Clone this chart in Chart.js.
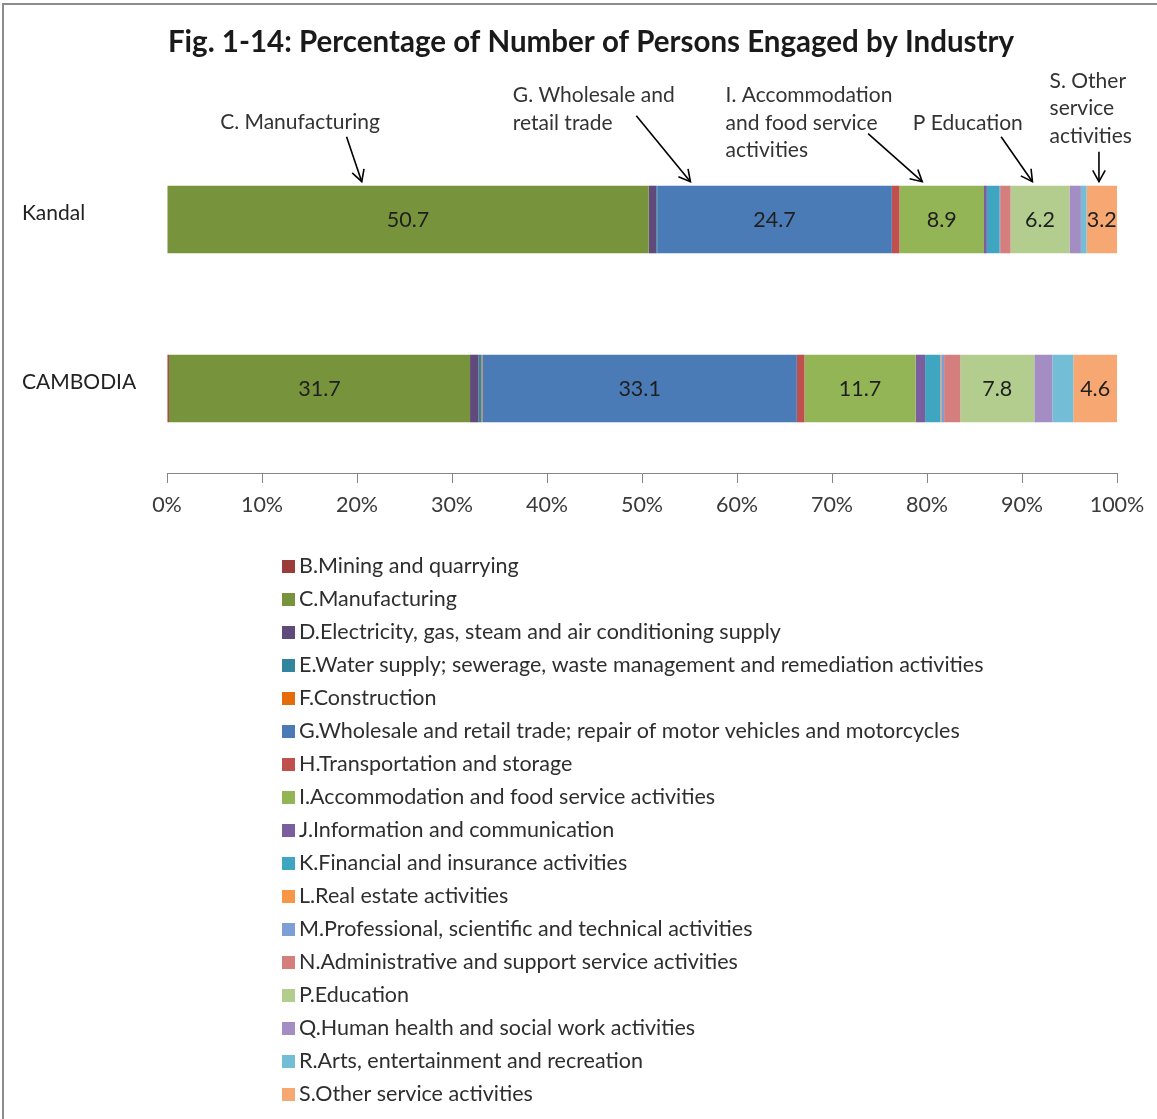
<!DOCTYPE html>
<html><head><meta charset="utf-8">
<script src="https://cdn.jsdelivr.net/npm/chart.js@4/dist/chart.umd.min.js"></script>
<style>html,body{margin:0;padding:0;background:#fff}#wrap{width:1157px;height:1119px;position:relative}</style>
</head><body><div id="wrap"><canvas id="c" width="1157" height="1119"></canvas></div>
<script>
// ---------- data ----------
const regions = ['Kandal', 'CAMBODIA'];
const industries = [
  'B.Mining and quarrying',
  'C.Manufacturing',
  'D.Electricity, gas, steam and air conditioning supply',
  'E.Water supply; sewerage, waste management and remediation activities',
  'F.Construction',
  'G.Wholesale and retail trade; repair of motor vehicles and motorcycles',
  'H.Transportation and storage',
  'I.Accommodation and food service activities',
  'J.Information and communication',
  'K.Financial and insurance activities',
  'L.Real estate activities',
  'M.Professional, scientific and technical activities',
  'N.Administrative and support service activities',
  'P.Education',
  'Q.Human health and social work activities',
  'R.Arts, entertainment and recreation',
  'S.Other service activities'
];
const kandalValues   = [0.0, 50.7, 0.8, 0.1, 0.0, 24.7, 0.8, 8.9, 0.3, 1.3, 0.0, 0.1, 1.1, 6.2, 1.2, 0.6, 3.2];
const cambodiaValues = [0.2, 31.7, 0.9, 0.3, 0.1, 33.1, 0.8, 11.7, 1.0, 1.6, 0.1, 0.3, 1.7, 7.8, 1.9, 2.2, 4.6];
const labelledIndustries = ['C.Manufacturing', 'G.Wholesale and retail trade; repair of motor vehicles and motorcycles',
  'I.Accommodation and food service activities', 'P.Education', 'S.Other service activities'];
const xTickValues = [0, 10, 20, 30, 40, 50, 60, 70, 80, 90, 100];
const titleText = 'Fig. 1-14: Percentage of Number of Persons Engaged by Industry';

// callouts (text and arrow anchors in percent units of the value axis)
const calloutLines = [['C. Manufacturing'], ['G. Wholesale and', 'retail trade'], ['I. Accommodation', 'and food service', 'activities'], ['P Education'], ['S. Other', 'service', 'activities']];
const calloutTextAt = [14.0, 36.4, 58.8, 78.5, 92.9];
const calloutArrowFrom = [18.9, 49.4, 73.8, 87.8, 98.1];
const calloutArrowTo = [20.5, 55.1, 79.5, 91.1, 98.1];

// ---------- styles ----------
const industryColors = ['#9A3C39', '#77933C', '#604A7B', '#31859C', '#E46C0A', '#4A7BB7', '#C0504D', '#93B555',
  '#7B5E9E', '#3FA6C2', '#F79646', '#7E9ED6', '#D47F7D', '#B3CD8E', '#A38DC2', '#74BDD6', '#F7A772'];
const FONT = 'Lato, "Open Sans", sans-serif';

const datasets = industries.map((name, i) => ({
  label: name,
  data: [kandalValues[i], cambodiaValues[i]],
  backgroundColor: industryColors[i],
  borderWidth: 0,
  categoryPercentage: 0.8,
  barPercentage: 0.5
}));

const decor = {
  id: 'decor',
  beforeDraw(chart) {
    const ctx = chart.ctx;
    ctx.save();
    ctx.fillStyle = '#fff';
    ctx.fillRect(0, 0, chart.width, chart.height);
    ctx.restore();
  },
  afterDraw(chart) {
    const ctx = chart.ctx;
    const xs = chart.scales.x;
    ctx.save();
    // frame lines
    ctx.strokeStyle = '#8c8c8c';
    ctx.lineWidth = 2;
    ctx.beginPath();
    ctx.moveTo(3, chart.height); ctx.lineTo(3, 4); ctx.lineTo(chart.width, 4);
    ctx.stroke();

    // title
    ctx.fillStyle = '#1a1a1a';
    ctx.font = 'bold 29.5px ' + FONT;
    ctx.textAlign = 'center';
    ctx.textBaseline = 'middle';
    ctx.fillText(titleText, 591, 42);

    // value labels
    ctx.font = '21.5px ' + FONT;
    ctx.fillStyle = '#1f1f1f';
    chart.data.datasets.forEach((ds, di) => {
      if (!labelledIndustries.includes(ds.label)) return;
      chart.getDatasetMeta(di).data.forEach((el, j) => {
        const v = ds.data[j];
        ctx.fillText(v.toFixed(1), (el.x + el.base) / 2, el.y + 1);
      });
    });

    // callouts
    const firstBar = chart.getDatasetMeta(1).data[0];
    const barTop = firstBar.y - firstBar.height / 2;
    const rowY = [-90, -62, -35];
    ctx.font = '21px ' + FONT;
    ctx.fillStyle = '#333';
    calloutLines.forEach((lines, k) => {
      let ys, align, fromY;
      if (k === 0) { ys = [-63]; align = 'center'; fromY = -49; }
      else if (k === 4) { ys = [-104, -77, -49]; align = 'left'; fromY = -34; }
      else if (k === 3) { ys = [-62]; align = 'left'; fromY = -49; }
      else { ys = rowY; align = 'left'; fromY = (k === 1 ? -70 : -52); }
      ctx.textAlign = align;
      const tx = xs.getPixelForValue(calloutTextAt[k]);
      lines.forEach((t, li) => ctx.fillText(t, tx, barTop + ys[li]));
      const x1 = xs.getPixelForValue(calloutArrowFrom[k]);
      const x2 = xs.getPixelForValue(calloutArrowTo[k]);
      const y1 = barTop + fromY, y2 = barTop - 4;
      ctx.strokeStyle = '#000';
      ctx.lineWidth = 1.6;
      ctx.beginPath(); ctx.moveTo(x1, y1); ctx.lineTo(x2, y2); ctx.stroke();
      const ang = Math.atan2(y2 - y1, x2 - x1);
      const L = 13, a = 0.5;
      ctx.beginPath();
      ctx.moveTo(x2 - L * Math.cos(ang - a), y2 - L * Math.sin(ang - a));
      ctx.lineTo(x2, y2);
      ctx.lineTo(x2 - L * Math.cos(ang + a), y2 - L * Math.sin(ang + a));
      ctx.stroke();
    });

    // legend
    ctx.font = '21.5px ' + FONT;
    ctx.textAlign = 'left';
    ctx.textBaseline = 'middle';
    chart.data.datasets.forEach((ds, i) => {
      const y = 566 + i * 33;
      ctx.fillStyle = ds.backgroundColor;
      ctx.fillRect(282, y - 6, 13, 13);
      ctx.fillStyle = '#2e2e2e';
      ctx.fillText(ds.label, 299, y);
    });
    ctx.restore();
  }
};

new Chart(document.getElementById('c'), {
  type: 'bar',
  data: { labels: regions, datasets },
  options: {
    responsive: false,
    animation: false,
    devicePixelRatio: 1,
    indexAxis: 'y',
    layout: { padding: { left: 22, right: 40, top: 135, bottom: 0 } },
    plugins: { legend: { display: false }, title: { display: false }, tooltip: { enabled: false } },
    scales: {
      x: {
        stacked: true, min: 0, max: 100,
        afterBuildTicks(s) { s.ticks = xTickValues.map(v => ({ value: v })); },
        ticks: { callback: v => v + '%', font: { family: FONT, size: 21.5 }, color: '#3a3a3a', padding: 9, maxRotation: 0, autoSkip: false },
        grid: { drawOnChartArea: false, tickLength: 10, color: '#868686', lineWidth: 1 },
        border: { color: '#868686', width: 1 },
        afterFit(s) { s.height = 1119 - 473; }
      },
      y: {
        stacked: true,
        grid: { display: false },
        border: { display: false },
        ticks: { crossAlign: 'far', font: { family: FONT, size: 21 }, color: '#222', labelOffset: -6 },
        afterFit(s) { s.width = 145; }
      }
    }
  },
  plugins: [decor]
});
</script>
</body></html>
